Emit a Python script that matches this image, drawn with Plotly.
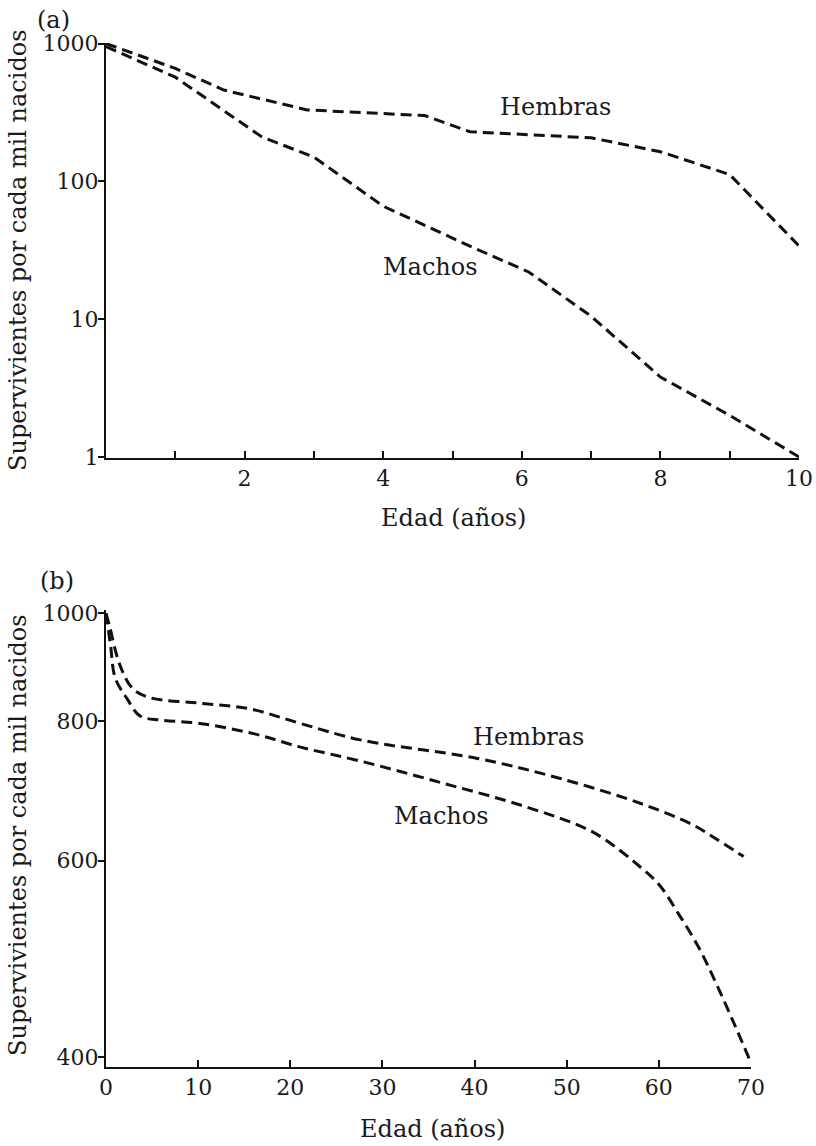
import plotly.graph_objects as go

W, H = 816, 1146

# panel (a): log survival over 10 years
a_edad_h = [0, 1, 1.7, 2.9, 4.6, 5.25, 7, 8, 9, 10]
a_hembras = [1000, 660, 460, 330, 300, 229, 207, 164, 112, 34]
a_edad_m = [0, 1, 2.25, 3, 4, 5.3, 6.1, 7, 8, 9, 10]
a_machos = [950, 570, 210, 150, 66, 33, 22, 10.5, 3.8, 2.0, 1.0]
a_yticks = [1, 10, 100, 1000]
a_xticks = list(range(1, 11))

# panel (b): survival over 70 years
b_edad_h = [0, 0.4, 1.5, 2.9, 4.8, 10, 15.6, 21, 27.6, 40.3, 49.3, 58.3, 63.7, 65.5, 69.2]
b_hembras = [1000, 973, 899, 856, 840, 831, 821, 797, 770, 741, 711, 674, 646, 633, 605]
b_edad_m = [0, 0.5, 1.0, 2.3, 3.7, 6, 10, 16, 21, 27.6, 36.6, 45.7, 52.9, 58.1, 60.1, 62.1, 64.3, 66.3, 68.3, 70]
b_machos = [1000, 935, 875, 838, 809, 802, 797, 780, 759, 737, 704, 670, 636, 591, 570, 538, 502, 464, 426, 395]
b_yticks = [400, 600, 800, 1000]
b_xticks = list(range(0, 80, 10))

FONT = "DejaVu Serif"
TXT = "#1a1a1a"
line = dict(color="#111", width=3, dash="11px,6px")

def px_x(p):
    return p / W

def px_y(p):
    return 1 - p / H

fig = go.Figure()
fig.add_trace(go.Scatter(x=a_edad_h, y=a_hembras, mode="lines", line=line, xaxis="x", yaxis="y"))
fig.add_trace(go.Scatter(x=a_edad_m, y=a_machos, mode="lines", line=line, xaxis="x", yaxis="y"))
fig.add_trace(go.Scatter(x=b_edad_h, y=b_hembras, mode="lines", line=dict(line, shape="spline"),
                         xaxis="x2", yaxis="y2"))
fig.add_trace(go.Scatter(x=b_edad_m, y=b_machos, mode="lines", line=dict(line, shape="spline"),
                         xaxis="x2", yaxis="y2"))

ax = dict(showgrid=False, zeroline=False, showline=True, linecolor="#111", linewidth=2,
          tickcolor="#111", tickwidth=2, automargin=False, ticklabeloverflow="allow",
          tickfont=dict(family=FONT, size=22, color=TXT))

fig.update_layout(
    width=W, height=H, margin=dict(l=0, r=0, t=0, b=0),
    paper_bgcolor="white", plot_bgcolor="white", showlegend=False,
    xaxis=dict(ax, domain=[px_x(106), px_x(799)], range=[0, 10], anchor="y",
               tickvals=a_xticks, ticktext=[str(v) if v % 2 == 0 else "" for v in a_xticks],
               ticks="inside", ticklen=7),
    yaxis=dict(ax, domain=[px_y(458), px_y(43)], type="log", range=[-0.008, 3.004], anchor="x",
               tickvals=a_yticks, ticktext=[str(v) for v in a_yticks], ticks="outside", ticklen=6,
               ticklabelstandoff=-5),
    xaxis2=dict(ax, domain=[px_x(106), px_x(751)], range=[0, 70], anchor="y2",
                tickvals=b_xticks, ticktext=[str(v) for v in b_xticks], ticks="inside", ticklen=7),
    yaxis2=dict(ax, domain=[px_y(1067), px_y(610)], type="log", range=[2.593, 3.003], anchor="x2",
                tickvals=b_yticks, ticktext=[str(v) for v in b_yticks], ticks="outside", ticklen=6,
                ticklabelstandoff=-5),
)

ytitle = "Supervivientes por cada mil nacidos"
notes = [
    dict(text="(a)", x=px_x(53), y=px_y(20), xref="paper", yref="paper"),
    dict(text="(b)", x=px_x(57), y=px_y(581), xref="paper", yref="paper"),
    dict(text=ytitle, x=px_x(18), y=px_y(250), xref="paper", yref="paper", textangle=-90),
    dict(text=ytitle, x=px_x(18), y=px_y(835), xref="paper", yref="paper", textangle=-90),
    dict(text="Edad (años)", x=px_x(453), y=px_y(518), xref="paper", yref="paper"),
    dict(text="Edad (años)", x=px_x(432), y=px_y(1129), xref="paper", yref="paper"),
    dict(text="Hembras", x=6.48, y=2.54, xref="x", yref="y"),
    dict(text="Machos", x=4.68, y=1.38, xref="x", yref="y"),
    dict(text="Hembras", x=45.8, y=2.889, xref="x2", yref="y2"),
    dict(text="Machos", x=36.4, y=2.8186, xref="x2", yref="y2"),
]
for n in notes:
    fig.add_annotation(showarrow=False, xanchor="center", yanchor="middle",
                       font=dict(family=FONT, size=24, color=TXT), **n)

# drop the default 8px page margin so the figure sits at the window corner
fig.write_html("out.html", config={"displayModeBar": False},
               post_script="document.body.style.margin='0';")
